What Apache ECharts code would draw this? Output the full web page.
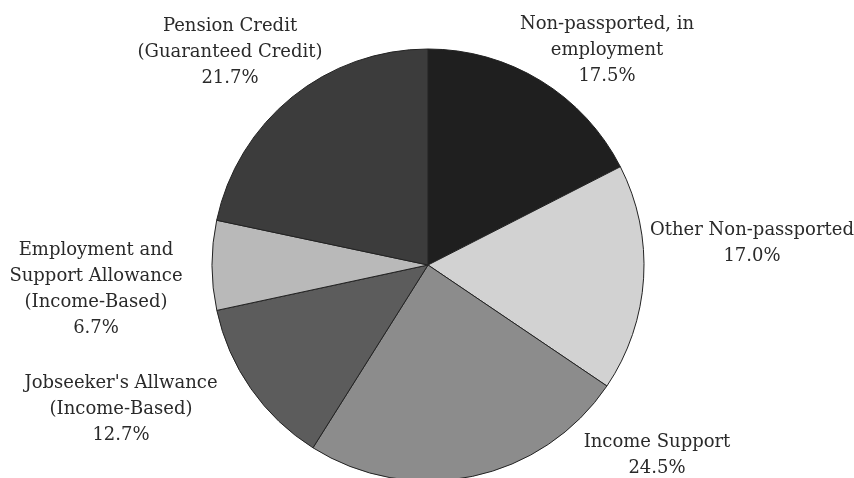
<!DOCTYPE html>
<html>
<head>
<meta charset="utf-8">
<title>Pie</title>
<script src="https://cdn.jsdelivr.net/npm/echarts@6/dist/echarts.min.js"></script>
<style>
html, body { margin: 0; padding: 0; background: #fff; }
#content { width: 854px; height: 478px; }
</style>
</head>
<body>
<div id="content"></div>
<script>
// slice names (clockwise from 12 o'clock)
var names = [
    "Non-passported, in\nemployment",
    "Other Non-passported",
    "Income Support",
    "Jobseeker's Allwance\n(Income-Based)",
    "Employment and\nSupport Allowance\n(Income-Based)",
    "Pension Credit\n(Guaranteed Credit)"
];
var values = [17.5, 17.0, 24.5, 12.7, 6.7, 21.7];
var colors = ["#1f1f1f", "#d2d2d2", "#8c8c8c", "#5c5c5c", "#b9b9b9", "#3c3c3c"];

// label centres (px), same order as the slices
var labelPos = [
    [607, 50],
    [752, 243],
    [657, 455],
    [121, 409],
    [96, 289],
    [230, 52]
];

var myChart = echarts.init(document.getElementById("content"));

var data = [];
for (var i = 0; i < names.length; i++) {
    data.push({
        name: names[i],
        value: values[i],
        itemStyle: { color: colors[i] }
    });
}

myChart.setOption({
    animation: false,
    series: [{
        type: "pie",
        center: [428, 265],
        radius: 216,
        startAngle: 90,
        clockwise: true,
        data: data,
        itemStyle: {
            borderColor: "#222",
            borderWidth: 1
        },
        label: {
            show: true,
            position: "outside",
            fontFamily: "DejaVu Serif",
            fontSize: 18,
            lineHeight: 26,
            color: "#2a2a2a",
            align: "center",
            overflow: "none",
            formatter: function(p) {
                return p.name + "\n" + p.value.toFixed(1) + "%";
            }
        },
        labelLine: { show: false },
        labelLayout: function(params) {
            var pos = labelPos[params.dataIndex];
            return {
                x: pos[0],
                y: pos[1],
                align: "center",
                verticalAlign: "middle"
            };
        }
    }]
});
</script>
</body>
</html>
